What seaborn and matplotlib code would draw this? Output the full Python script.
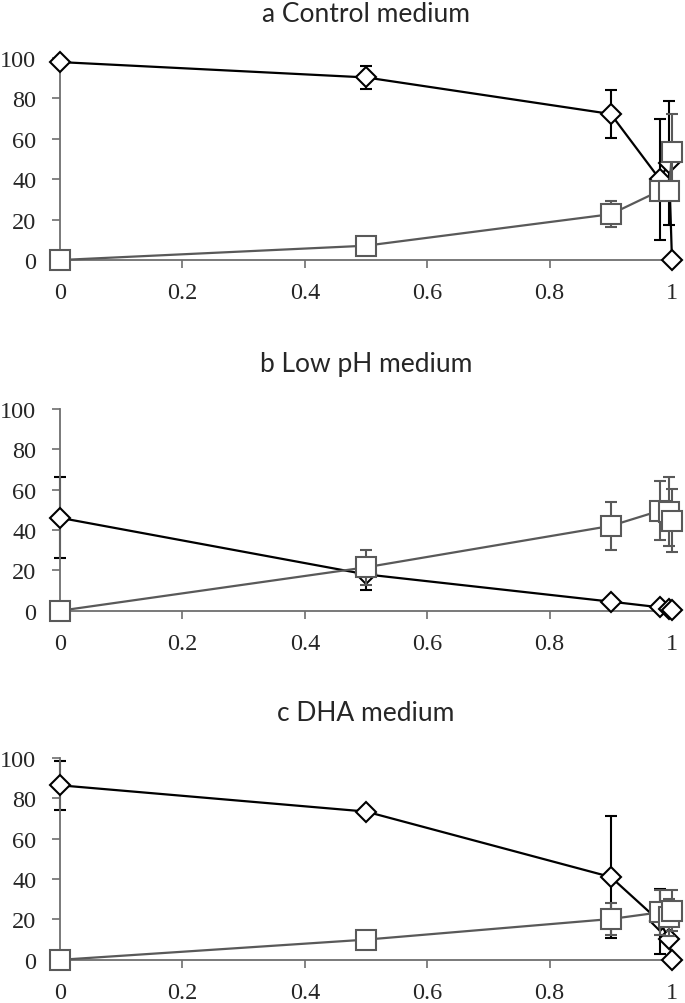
import numpy as np
import pandas as pd
import matplotlib
matplotlib.use('Agg')
import matplotlib.pyplot as plt
import seaborn as sns

# data
x = [0, 0.5, 0.9, 0.98, 0.995, 1.0]

a_diamond = [98, 90.4, 72.3, 40, 48, 0]
a_diamond_err = [0, 5.6, 12, 30, 30.5, 0]
a_square = [0, 7.1, 22.7, 34.3, 34, 53.5]
a_square_err = [0, 0, 6.5, 0, 4, 19]

b_diamond = [46, 18, 4.5, 1.7, 1.0, 0.5]
b_diamond_err = [20, 7.5, 0, 0, 0, 0]
b_square = [0, 21.5, 42, 49.5, 49, 44.6]
b_square_err = [0, 8.7, 12, 14.5, 17, 15.5]

c_diamond = [86.4, 73.4, 41, 19, 10.4, 0]
c_diamond_err = [12, 1, 30, 16, 0, 0]
c_square = [0, 10, 20.2, 23.5, 21, 24.4]
c_square_err = [0, 0, 8, 11, 9, 10]

titles = ['a Control medium', 'b Low pH medium', 'c DHA medium']
xticks = [0, 0.2, 0.4, 0.6, 0.8, 1.0]
xlabels = ['0', '0.2', '0.4', '0.6', '0.8', '1']
yticks = [0, 20, 40, 60, 80, 100]

panels = [(a_diamond, a_diamond_err, a_square, a_square_err),
          (b_diamond, b_diamond_err, b_square, b_square_err),
          (c_diamond, c_diamond_err, c_square, c_square_err)]

sns.set_style('white')
plt.rcParams['font.family'] = ['Liberation Serif', 'DejaVu Serif']

grey = '#595959'
axis_col = '#6e6e6e'

fig = plt.figure(figsize=(6.85, 10.04), dpi=100)
bottoms = [0.7400, 0.3907, 0.0430]

for i in range(3):
    ax = fig.add_axes([0.0876, bottoms[i], 0.8934, 0.2012])
    dia, dia_err, sq, sq_err = panels[i]
    df = pd.DataFrame({'x': x, 'diamond': dia, 'square': sq})

    ax.errorbar(x, dia, yerr=dia_err, fmt='none', ecolor='black', elinewidth=1.5,
                capsize=4.5, capthick=1.5, zorder=2, clip_on=False)
    sns.lineplot(data=df, x='x', y='diamond', ax=ax, errorbar=None, color='black',
                 lw=1.6, marker='D', markersize=10, markerfacecolor='white',
                 markeredgecolor='black', markeredgewidth=1.5, clip_on=False, zorder=3)
    ax.errorbar(x, sq, yerr=sq_err, fmt='none', ecolor=grey, elinewidth=1.5,
                capsize=4.5, capthick=1.5, zorder=4, clip_on=False)
    sns.lineplot(data=df, x='x', y='square', ax=ax, errorbar=None, color=grey,
                 lw=1.6, marker='s', markersize=15, markerfacecolor='white',
                 markeredgecolor=grey, markeredgewidth=1.5, clip_on=False, zorder=5)

    ax.set_xlim(0, 1)
    ax.set_ylim(0, 100)
    ax.set_xticks(xticks)
    ax.set_xticklabels(xlabels)
    ax.set_yticks(yticks)
    ax.set_xlabel('')
    ax.set_ylabel('')
    sns.despine(ax=ax)
    for s in ['left', 'bottom']:
        ax.spines[s].set_color(axis_col)
        ax.spines[s].set_linewidth(1.3)
    ax.tick_params(axis='both', direction='out', length=5.5, width=1.2,
                   color=axis_col, labelsize=17.5, left=True, bottom=True)
    ax.tick_params(axis='y', pad=11.5)
    ax.tick_params(axis='x', pad=10.5)
    ax.set_title(titles[i], fontsize=19, family=['Lato', 'DejaVu Sans'], pad=27)

plt.savefig('out.png', dpi=100)
